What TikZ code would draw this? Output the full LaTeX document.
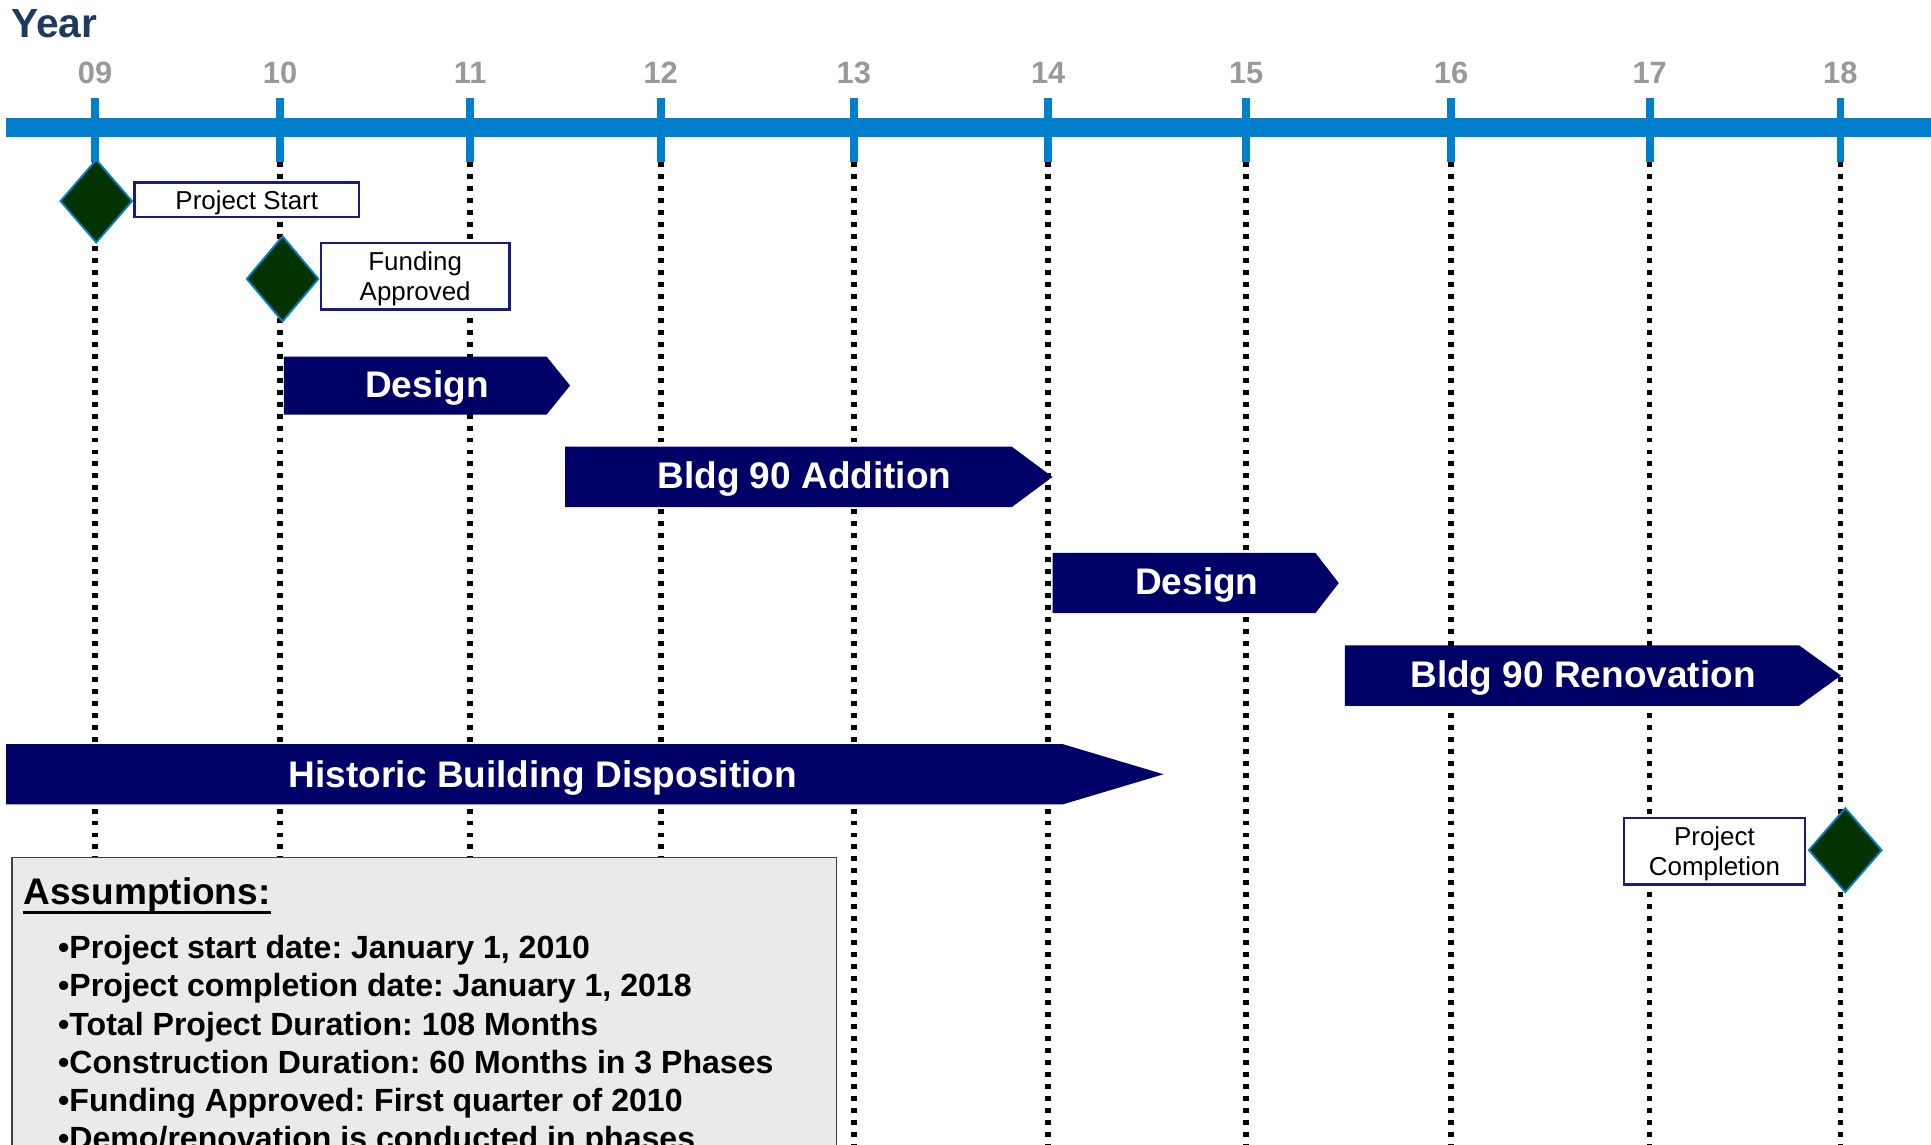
\documentclass[tikz,border=0pt]{standalone}
\usepackage{fontspec}
\setmainfont{Liberation Sans}
\frenchspacing
\definecolor{timeblue}{RGB}{0,128,204}
\definecolor{barnavy}{RGB}{0,0,102}
\definecolor{msgreen}{RGB}{0,51,0}
\definecolor{boxnavy}{RGB}{26,26,128}
\definecolor{yeargray}{RGB}{153,153,153}
\definecolor{yearblue}{RGB}{31,58,95}
\definecolor{assfill}{RGB}{234,234,234}
\definecolor{assline}{RGB}{64,64,64}
\newcommand\ganttbar[5]{%
  \fill[barnavy] (#1,#4) -- (#2,#4) -- (#3,{(#4+#5)/2}) -- (#2,#5) -- (#1,#5) -- cycle;}
\newcommand\milestone[4]{%
  \filldraw[fill=msgreen,draw=timeblue,line width=1.5pt] (#1,#2) ++(-#3,0) -- ++(#3,-#4) -- ++(#3,#4) -- ++(-#3,#4) -- cycle;}
\begin{document}
\begin{tikzpicture}[x=1pt,y=-1pt,
  yearlbl/.style={anchor=base,inner sep=0pt,text=yeargray,font=\fontsize{25}{29}\selectfont\bfseries},
  dotline/.style={line width=4.5pt,dash pattern=on 4pt off 5.7pt},
  bartext/.style={anchor=base,inner sep=0pt,text=white,font=\fontsize{30}{36}\selectfont\bfseries},
  msbox/.style={draw=boxnavy,line width=2pt,fill=white},
  mstext/.style={inner sep=0pt,align=center,font=\fontsize{21}{25}\selectfont},
  bullet/.style={anchor=base west,inner sep=0pt,font=\fontsize{26}{30}\selectfont\bfseries}]
\useasboundingbox (0,0) rectangle (1565,927.2);
\clip (0,0) rectangle (1565,927.2);
% dotted year lines
\foreach \x/\l [count=\i] in {77/09,227/10,381/11,535.5/12,692/13,849.5/14,1010/15,1176/16,1337/17,1491.5/18}{
  \coordinate (t\i) at (\x,131.5);
  \coordinate (b\i) at (\x,930);
  \draw[dotline] (t\i) -- (b\i);
}
% timeline
\fill[timeblue] (5,95.5) rectangle (1565,110.8);
\foreach \x/\l [count=\i] in {77/09,227/10,381/11,535.5/12,692/13,849.5/14,1010/15,1176/16,1337/17,1491.5/18}{
  \fill[timeblue] (\x-3.1,79.5) rectangle (\x+3.1,131.5);
  \node[yearlbl] (yl\i) at (\x,68) {\l};
}
\node[anchor=base west,inner sep=0pt,text=yearblue,font=\fontsize{33}{38}\selectfont\bfseries] (year) at (9,30) {Year};
% bars
\ganttbar{230}{443}{462}{289}{336}
\node[bartext] (design1) at (346,322) {Design};
\ganttbar{458}{820}{853}{362}{411}
\node[bartext] (add) at (652,396) {Bldg 90 Addition};
\ganttbar{853}{1066}{1085}{448}{497}
\node[bartext] (design2) at (970,482) {Design};
\ganttbar{1090}{1458}{1492}{523}{572}
\node[bartext] (reno) at (1283,557) {Bldg 90 Renovation};
\ganttbar{5}{861}{943}{603}{652}
\node[bartext] (hist) at (440,638) {Historic Building Disposition};
% milestones
\milestone{78}{163}{29}{33.5}
\draw[msbox] (109,148) rectangle (291,176);
\node[mstext] (ps) at (200,164) {Project Start};
\milestone{229}{226}{29}{34.5}
\draw[msbox] (260,197) rectangle (413,251);
\node[mstext] (fa) at (336.5,226) {Funding\\Approved};
\draw[msbox] (1316,663) rectangle (1463,717);
\node[mstext] (pc) at (1389.5,692) {Project\\Completion};
\milestone{1495.5}{689}{29.5}{34}
% assumptions
\filldraw[fill=assfill,draw=assline,line width=1.5pt] (10,695) rectangle (678,960);
\node[anchor=base west,inner sep=0pt,font=\fontsize{30}{34}\selectfont\bfseries] (ass) at (19,733) {Assumptions:};
\draw[line width=2.5pt] (ass.south west) -- (ass.south east);
\node[bullet] (a1) at (47,777) {•Project start date: January 1, 2010};
\node[bullet] (a2) at (47,808) {•Project completion date: January 1, 2018};
\node[bullet] (a3) at (47,839) {•Total Project Duration: 108 Months};
\node[bullet] (a4) at (47,870) {•Construction Duration: 60 Months in 3 Phases};
\node[bullet] (a5) at (47,901) {•Funding Approved: First quarter of 2010};
\node[bullet] (a6) at (47,932) {•Demo/renovation is conducted in phases};
\end{tikzpicture}
\end{document}
